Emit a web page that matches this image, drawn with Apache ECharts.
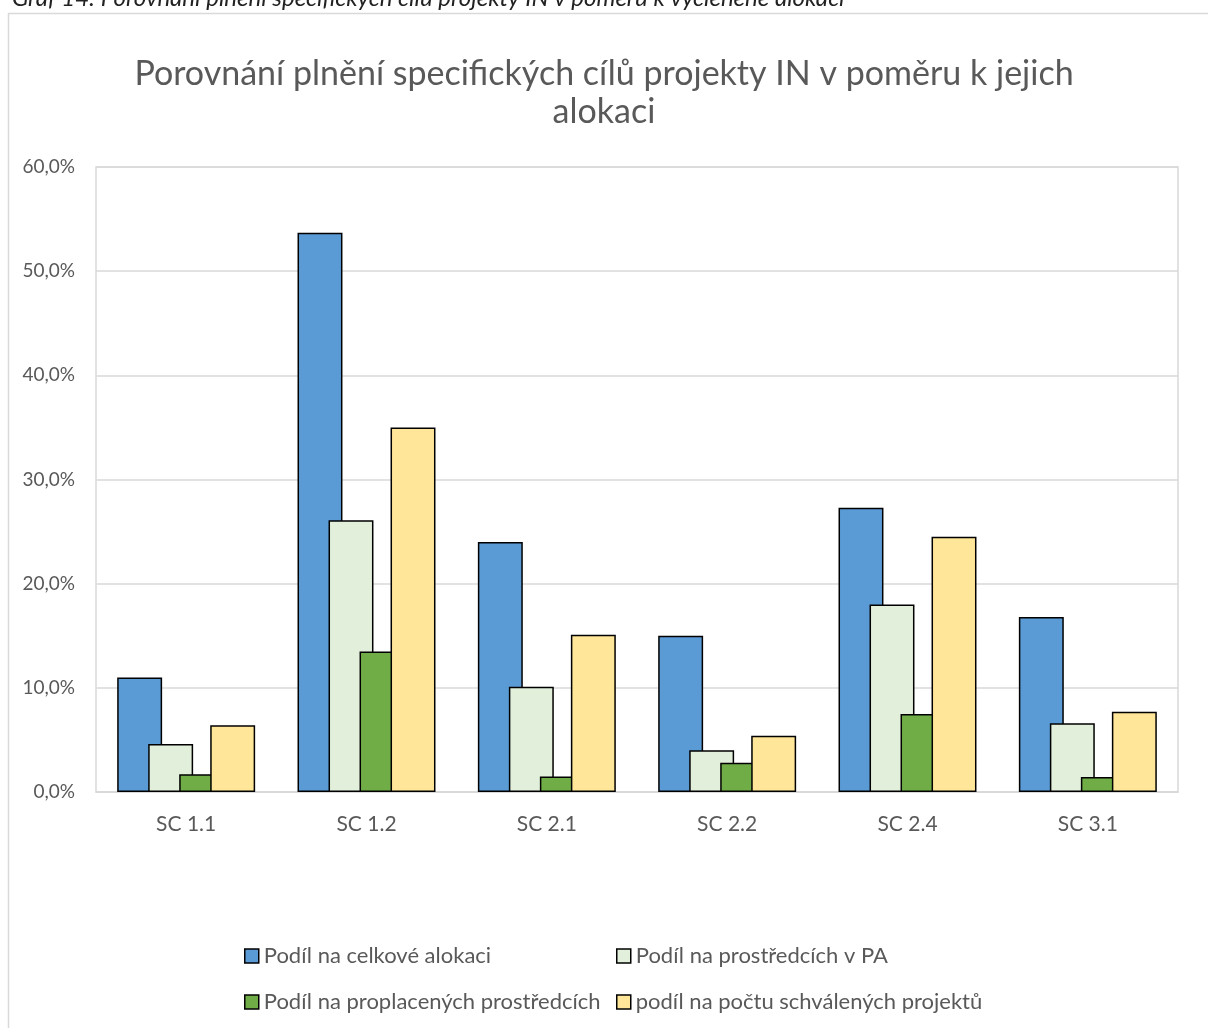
<!DOCTYPE html>
<html>
<head>
<meta charset="utf-8">
<script src="https://cdn.jsdelivr.net/npm/echarts@6/dist/echarts.min.js"></script>
<style>html,body{margin:0;padding:0;background:#fff}#c{width:1208px;height:1028px}</style>
</head>
<body>
<div id="c"></div>
<script>
var categories = ['SC 1.1', 'SC 1.2', 'SC 2.1', 'SC 2.2', 'SC 2.4', 'SC 3.1'];
var seriesNames = ['Podíl na celkové alokaci', 'Podíl na prostředcích v PA', 'Podíl na proplacených prostředcích', 'podíl na počtu schválených projektů'];
var celkovaAlokace = [11.0, 53.7, 24.0, 15.0, 27.3, 16.8];
var prostredkyPA = [4.6, 26.1, 10.1, 4.0, 18.0, 6.6];
var proplaceneProstredky = [1.7, 13.5, 1.5, 2.8, 7.5, 1.45];
var pocetProjektu = [6.4, 35.0, 15.1, 5.4, 24.5, 7.7];
var yTicks = [0, 10, 20, 30, 40, 50, 60];
var colors = ['#5B9BD5', '#E2EFDA', '#70AD47', '#FFE699'];

var chart = echarts.init(document.getElementById('c'));
var dataSets = [celkovaAlokace, prostredkyPA, proplaceneProstredky, pocetProjektu];
var series = dataSets.map(function (d, i) {
  return {
    name: seriesNames[i],
    type: 'bar',
    data: d,
    barGap: '-31%',
    barCategoryGap: '23.5%',
    itemStyle: { color: colors[i], borderColor: '#000', borderWidth: 1.5 }
  };
});
var legendText = { fontFamily: 'Lato', fontSize: 22, color: '#595959' };
chart.setOption({
  animation: false,
  textStyle: { fontFamily: 'Lato' },
  title: {
    text: 'Porovnání plnění specifických cílů projekty IN v poměru k jejich\nalokaci',
    left: 'center',
    top: 50,
    textStyle: { fontFamily: 'Lato', fontSize: 34, fontWeight: 'normal', color: '#595959', lineHeight: 38 }
  },
  graphic: [
    { type: 'rect', shape: { x: 8.5, y: 13.5, width: 1300, height: 1100 }, style: { fill: 'none', stroke: '#d9d9d9', lineWidth: 1.5 }, silent: true },
    { type: 'text', left: 12, top: -14, style: { text: 'Graf 14: Porovnání plnění specifických cílů projekty IN v poměru k vyčleněné alokaci', font: 'italic 24px Lato', fill: '#222' } }
  ],
  legend: [
    { data: [seriesNames[0], seriesNames[2]], orient: 'vertical', left: 239, top: 940, itemWidth: 14, itemHeight: 14, itemGap: 24, textStyle: legendText, icon: 'rect', itemStyle: { borderColor: '#000', borderWidth: 1.5 } },
    { data: [seriesNames[1], seriesNames[3]], orient: 'vertical', left: 611, top: 940, itemWidth: 14, itemHeight: 14, itemGap: 24, textStyle: legendText, icon: 'rect', itemStyle: { borderColor: '#000', borderWidth: 1.5 } }
  ],
  grid: { left: 96, right: 30, top: 167, bottom: 236, containLabel: false, show: true, borderColor: '#d9d9d9', borderWidth: 1.5 },
  xAxis: {
    type: 'category',
    data: categories,
    axisLine: { lineStyle: { color: '#d9d9d9', width: 1.5 } },
    axisTick: { show: false },
    axisLabel: { fontFamily: 'Lato', fontSize: 21, color: '#595959', margin: 22 }
  },
  yAxis: {
    type: 'value',
    min: yTicks[0],
    max: yTicks[yTicks.length - 1],
    interval: 10,
    axisLine: { show: false },
    axisTick: { show: false },
    splitLine: { lineStyle: { color: '#d9d9d9', width: 1.5 } },
    axisLabel: {
      fontFamily: 'Lato', fontSize: 19, color: '#595959', margin: 21,
      formatter: function (v) { return v.toFixed(1).replace('.', ',') + '%'; }
    }
  },
  series: series
});
</script>
</body>
</html>
